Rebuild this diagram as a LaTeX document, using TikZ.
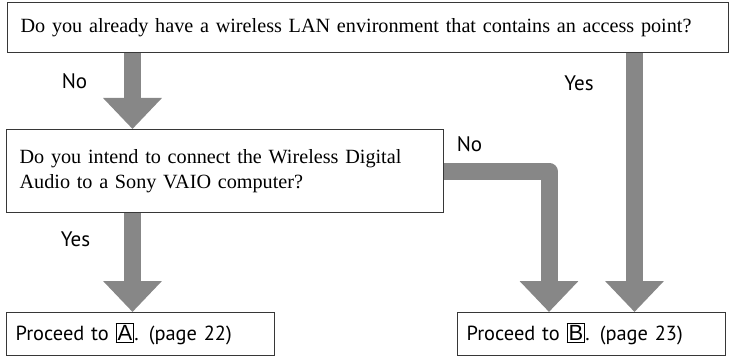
\documentclass[tikz,border=0pt]{standalone}
\usepackage{fontspec}
\setmainfont{Liberation Serif}
\newfontfamily\labelfont{PT Sans}
\newfontfamily\keyfont{Liberation Sans}
\usetikzlibrary{arrows.meta}
\definecolor{flowgray}{RGB}{135,135,135}
\definecolor{boxline}{RGB}{55,55,55}
\newcommand{\keybox}[1]{{\setlength{\fboxsep}{0.6pt}\setlength{\fboxrule}{0.4pt}\fbox{\keyfont\fontsize{11}{12}\selectfont #1}}}
\tikzset{
  question/.style={draw=boxline, line width=0.6pt, anchor=north west, align=left,
    inner xsep=6.5pt, inner ysep=0pt, font=\fontsize{10.1}{12.2}\selectfont},
  answer/.style={draw=boxline, line width=0.6pt, anchor=north west, align=left,
    inner xsep=4.5pt, inner ysep=0pt, font=\labelfont\fontsize{10.2}{12}\selectfont},
  choice/.style={font=\labelfont\fontsize{10.5}{12}\selectfont},
  flow/.style={draw=flowgray, line width=8.5pt, line join=round,
    -{Triangle[width=28.5pt,length=15.5pt]}}
}
\begin{document}
\begin{tikzpicture}[x=0.5pt,y=-0.5pt]
\useasboundingbox (0,0) rectangle (729,358);
\node[question, minimum width=360.5pt, minimum height=25pt, text width=347.5pt] (q1) at (7,2) {Do you already have a wireless LAN environment that contains an access point?};
\node[question, minimum width=218.5pt, minimum height=41.5pt, text width=205.5pt] (q2) at (6,129) {Do you intend to connect the Wireless Digital\\Audio to a Sony VAIO computer?};
\node[answer, minimum width=134pt, minimum height=21.5pt, text width=125pt] (pa) at (6,312) {Proceed to \keybox{A}. (page 22)};
\node[answer, minimum width=134pt, minimum height=21.5pt, text width=125pt] (pb) at (457,312) {Proceed to \keybox{B}. (page 23)};

\coordinate (colL) at (132.5,0);
\coordinate (colM) at (549,0);
\coordinate (colR) at (634.5,0);

\draw[flow] (q1.south -| colL) -- (q2.north -| colL);
\draw[flow] (q2.south -| colL) -- (pa.north -| colL);
\draw[flow] (q2.east) -| (pb.north -| colM);
\draw[flow] (q1.south -| colR) -- (pb.north -| colR);

\node[choice] (no1) at (74.5,81) {No};
\node[choice] (yes1) at (579,83) {Yes};
\node[choice] (no2) at (469.5,144) {No};
\node[choice] (yes2) at (75.5,239) {Yes};
\end{tikzpicture}
\end{document}
